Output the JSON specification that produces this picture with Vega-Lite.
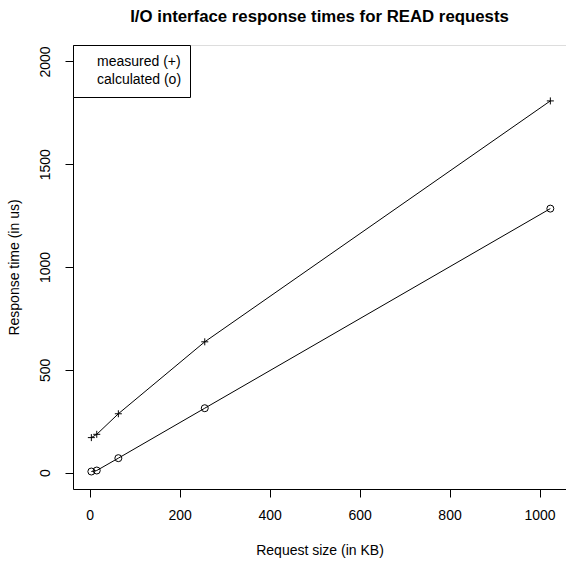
{
  "$schema": "https://vega.github.io/schema/vega-lite/v6.json",
  "width": 493,
  "height": 444,
  "autosize": {"type": "none"},
  "padding": {"left": 73, "top": 45, "right": 0, "bottom": 74},
  "background": "white",
  "title": {
    "text": "I/O interface response times for READ requests",
    "font": "Liberation Sans",
    "fontSize": 16.8,
    "fontWeight": "bold",
    "color": "black",
    "anchor": "middle",
    "frame": "group",
    "baseline": "alphabetic",
    "offset": 6
  },
  "data": {
    "values": [
      {"size": 4, "time": 170, "series": "measured (+)"},
      {"size": 16, "time": 186, "series": "measured (+)"},
      {"size": 64, "time": 286, "series": "measured (+)"},
      {"size": 256, "time": 636, "series": "measured (+)"},
      {"size": 1024, "time": 1808, "series": "measured (+)"},
      {"size": 4, "time": 5, "series": "calculated (o)"},
      {"size": 16, "time": 10, "series": "calculated (o)"},
      {"size": 64, "time": 70, "series": "calculated (o)"},
      {"size": 256, "time": 313, "series": "calculated (o)"},
      {"size": 1024, "time": 1284, "series": "calculated (o)"}
    ]
  },
  "encoding": {
    "x": {
      "field": "size",
      "type": "quantitative",
      "scale": {"domain": [-36.8, 1058.8], "nice": false, "zero": false},
      "axis": {
        "values": [0, 200, 400, 600, 800, 1000],
        "format": "d",
        "title": "Request size (in KB)",
        "grid": false,
        "domainColor": "black",
        "tickColor": "black",
        "tickSize": 8,
        "labelFont": "Liberation Sans",
        "labelFontSize": 14,
        "labelColor": "black",
        "labelBaseline": "alphabetic",
        "labelPadding": 22,
        "labelFlush": false,
        "titleFont": "Liberation Sans",
        "titleFontSize": 14,
        "titleFontWeight": "normal",
        "titleColor": "black",
        "titleBaseline": "alphabetic",
        "titleY": 65
      }
    },
    "y": {
      "field": "time",
      "type": "quantitative",
      "scale": {"domain": [-80, 2080], "nice": false, "zero": false},
      "axis": {
        "values": [0, 500, 1000, 1500, 2000],
        "format": "d",
        "title": "Response time (in us)",
        "grid": false,
        "domainColor": "black",
        "tickColor": "black",
        "tickSize": 8,
        "labelFont": "Liberation Sans",
        "labelFontSize": 14,
        "labelColor": "black",
        "labelAngle": 270,
        "labelAlign": "center",
        "labelBaseline": "alphabetic",
        "labelPadding": 15.5,
        "labelFlush": false,
        "titleFont": "Liberation Sans",
        "titleFontSize": 14,
        "titleFontWeight": "normal",
        "titleColor": "black",
        "titleAngle": 270,
        "titleBaseline": "alphabetic",
        "titleX": -55,
        "titleY": 222
      }
    }
  },
  "layer": [
    {
      "mark": {"type": "line", "color": "black", "strokeWidth": 1},
      "encoding": {
        "color": {
          "field": "series",
          "type": "nominal",
          "scale": {"domain": ["measured (+)", "calculated (o)"], "range": ["black", "black"]},
          "legend": {
            "title": null,
            "orient": "none",
            "legendX": 0,
            "legendY": 0,
            "strokeColor": "black",
            "fillColor": "white",
            "padding": 8,
            "cornerRadius": 0,
            "symbolType": "square",
            "symbolSize": 324,
            "symbolOpacity": 0,
            "symbolStrokeWidth": 0,
            "labelOffset": -2,
            "rowPadding": 0,
            "labelFont": "Liberation Sans",
            "labelFontSize": 14,
            "labelColor": "black"
          }
        }
      }
    },
    {
      "mark": {"type": "point", "filled": false, "stroke": "black", "strokeWidth": 1, "opacity": 1},
      "encoding": {
        "detail": {"field": "series"},
        "shape": {
          "field": "series",
          "type": "nominal",
          "scale": {"domain": ["measured (+)", "calculated (o)"], "range": ["M-1,0L1,0M0,-1L0,1", "circle"]},
          "legend": null
        },
        "size": {"value": 49}
      }
    }
  ]
}
